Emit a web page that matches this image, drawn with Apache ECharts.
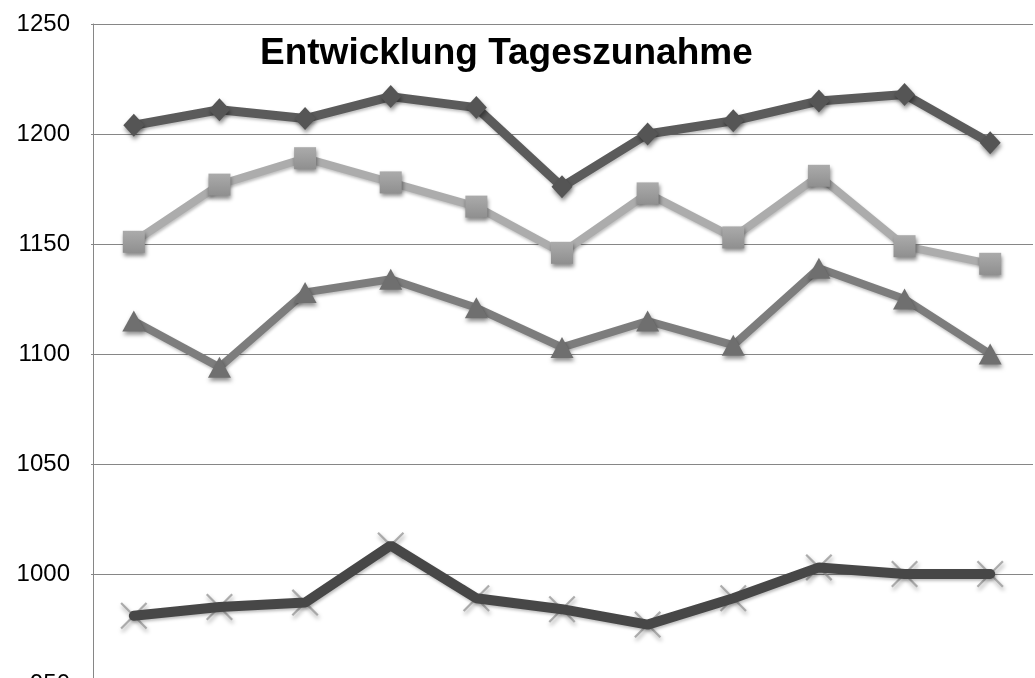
<!DOCTYPE html>
<html>
<head>
<meta charset="utf-8">
<script src="https://cdn.jsdelivr.net/npm/echarts@6/dist/echarts.min.js"></script>
<style>
  html, body { margin: 0; padding: 0; background: #fff; overflow: hidden; }
  /* Diagramm ist unten abgeschnitten wie im Original */
  #chart { width: 1035px; height: 700px; }
</style>
</head>
<body>
<div id="chart"></div>
<script>
// Tage (Kategorien) - Achsenbeschriftung liegt ausserhalb des Bildes
const days = ['1', '2', '3', '4', '5', '6', '7', '8', '9', '10', '11'];

const serieRaute   = [1204, 1211, 1207, 1217, 1212, 1176, 1200, 1206, 1215, 1218, 1196];
const serieQuadrat = [1151, 1177, 1189, 1178, 1167, 1146, 1173, 1153, 1181, 1149, 1141];
const serieDreieck = [1115, 1094, 1128, 1134, 1121, 1103, 1115, 1104, 1139, 1125, 1100];
const serieKreuz   = [981, 985, 987, 1013, 989, 984, 977, 989, 1003, 1000, 1000];

const yTicks = { min: 950, max: 1250, step: 50 };

// X-Symbol als gefuellter Pfad (duenne Balken)
const crossPath = 'path://M0,1.5L1.5,0L13,11.5L24.5,0L26,1.5L14.5,13L26,24.5L24.5,26L13,14.5L1.5,26L0,24.5L11.5,13Z';

const markerShadow = {
  shadowBlur: 4,
  shadowColor: 'rgba(0,0,0,0.45)',
  shadowOffsetX: 1,
  shadowOffsetY: 3
};
const lineShadow = {
  shadowBlur: 3,
  shadowColor: 'rgba(0,0,0,0.25)',
  shadowOffsetX: 1,
  shadowOffsetY: 2
};

const chart = echarts.init(document.getElementById('chart'));

chart.setOption({
  animation: false,
  backgroundColor: '#fff',
  title: {
    text: 'Entwicklung Tageszunahme',
    left: 255,
    top: 30,
    textStyle: {
      fontFamily: 'Liberation Sans, Arial, sans-serif',
      fontSize: 37,
      fontWeight: 'bold',
      color: '#000'
    }
  },
  grid: {
    left: 91,
    right: 2,
    top: 24,
    bottom: 16
  },
  xAxis: {
    type: 'category',
    data: days,
    boundaryGap: true,
    axisLine: { show: false },
    axisTick: { show: false },
    axisLabel: { show: false },
    splitLine: { show: false }
  },
  yAxis: {
    type: 'value',
    min: yTicks.min,
    max: yTicks.max,
    interval: yTicks.step,
    offset: -2,
    axisLine: { show: true, lineStyle: { color: '#868686', width: 1 } },
    axisTick: { show: false },
    axisLabel: {
      margin: 23,
      color: '#000',
      fontFamily: 'Liberation Sans, Arial, sans-serif',
      fontSize: 24,
      formatter: function (v) { return String(v); }
    },
    splitLine: { show: true, lineStyle: { color: '#868686', width: 1 } }
  },
  series: [
    {
      name: 'Reihe 1',
      type: 'line',
      data: serieRaute,
      symbol: 'diamond',
      symbolSize: [21, 23],
      lineStyle: Object.assign({ color: '#5b5b5b', width: 9 }, lineShadow),
      itemStyle: Object.assign({ color: '#555555' }, markerShadow),
      z: 4
    },
    {
      name: 'Reihe 2',
      type: 'line',
      data: serieQuadrat,
      symbol: 'rect',
      symbolSize: 22,
      lineStyle: Object.assign({ color: '#acacac', width: 8 }, lineShadow),
      itemStyle: Object.assign({
        color: new echarts.graphic.LinearGradient(0, 0, 0, 1, [
          { offset: 0, color: '#ababab' },
          { offset: 1, color: '#8f8f8f' }
        ])
      }, markerShadow),
      z: 3
    },
    {
      name: 'Reihe 3',
      type: 'line',
      data: serieDreieck,
      symbol: 'triangle',
      symbolSize: [23, 21],
      lineStyle: Object.assign({ color: '#7d7d7d', width: 8 }, lineShadow),
      itemStyle: Object.assign({ color: '#6f6f6f' }, markerShadow),
      z: 3
    },
    {
      name: 'Reihe 4 Kreuze',
      type: 'scatter',
      data: serieKreuz,
      symbol: crossPath,
      symbolSize: 27,
      itemStyle: Object.assign({ color: '#9a9a9a' }, markerShadow),
      z: 2
    },
    {
      name: 'Reihe 4',
      type: 'line',
      data: serieKreuz,
      showSymbol: false,
      symbol: 'none',
      lineStyle: Object.assign({ color: '#474747', width: 10, cap: 'round' }, lineShadow),
      z: 3
    }
  ]
});
</script>
</body>
</html>
